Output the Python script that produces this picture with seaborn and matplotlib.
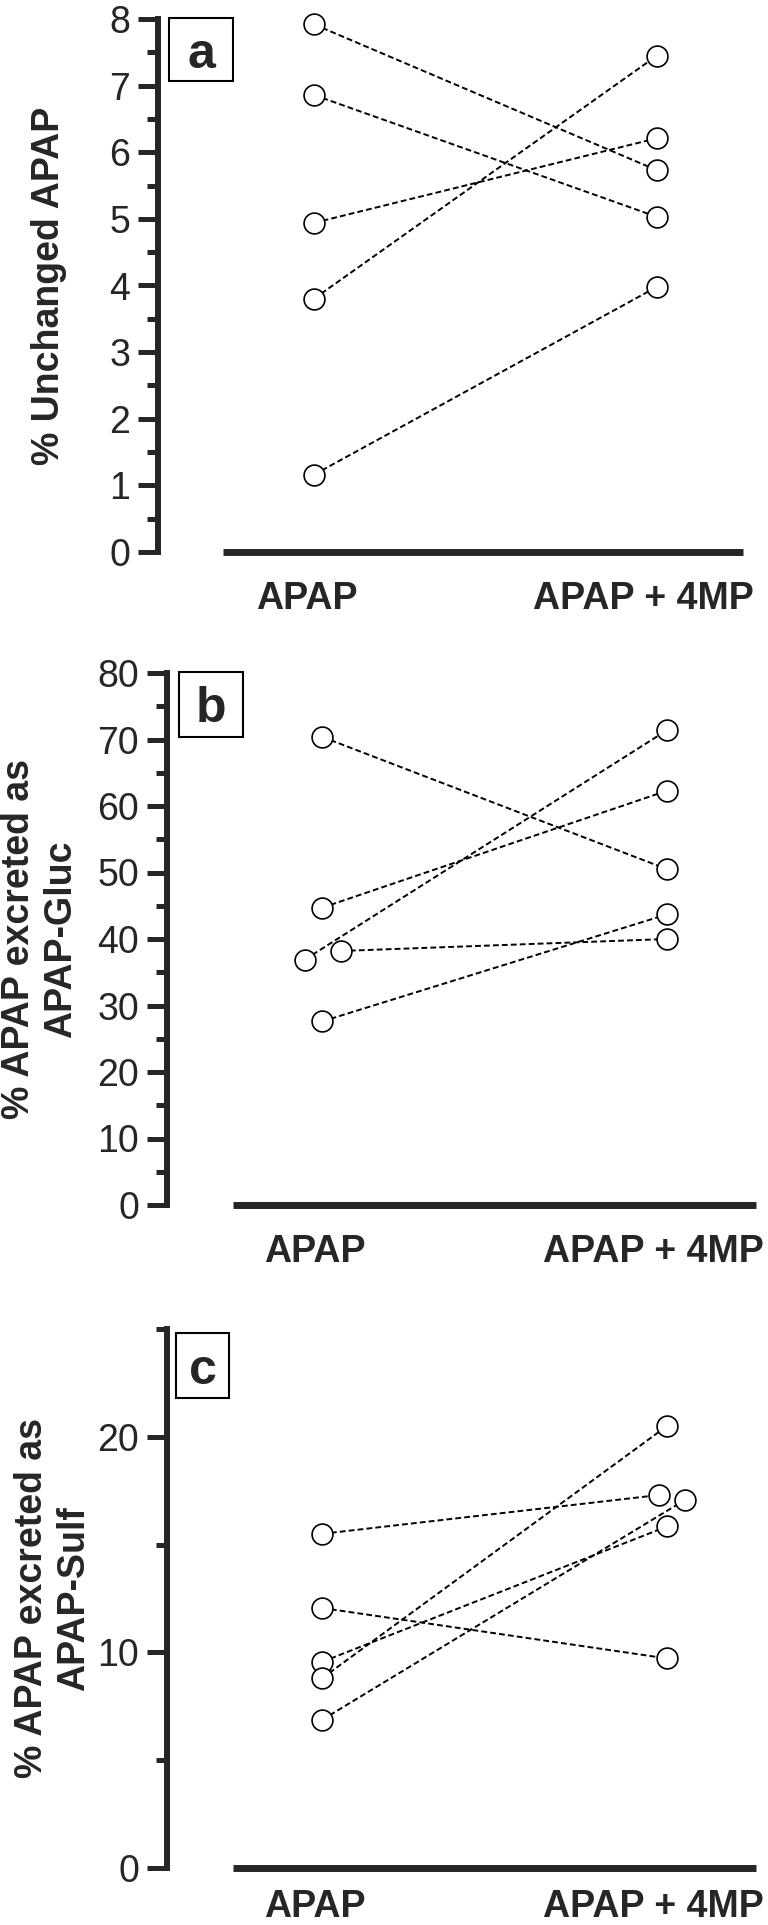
import matplotlib
matplotlib.use("Agg")
import matplotlib.pyplot as plt
import matplotlib.transforms as mtransforms
from matplotlib.patches import Rectangle
from matplotlib.ticker import MultipleLocator
import seaborn as sns
import pandas as pd

# ---------------- data ----------------
conditions = ["APAP", "APAP + 4MP"]
subjects = ["S1", "S2", "S3", "S4", "S5"]

# panel a: % unchanged APAP
unchanged_apap = [7.92, 6.86, 4.94, 3.80, 1.16]
unchanged_4mp = [5.73, 5.03, 6.21, 7.45, 3.98]
unchanged_off_apap = [0, 0, 0, 0, 0]
unchanged_off_4mp = [0, 0, 0, 0, 0]

# panel b: % APAP excreted as APAP-Gluc
gluc_apap = [70.4, 44.7, 36.9, 38.2, 27.6]
gluc_4mp = [50.5, 62.3, 71.4, 40.0, 43.7]
gluc_off_apap = [0, 0, -0.05, 0.055, 0]
gluc_off_4mp = [0, 0, 0, 0, 0]

# panel c: % APAP excreted as APAP-Sulf
sulf_apap = [15.5, 12.06, 9.56, 8.8, 6.87]
sulf_4mp = [17.3, 9.72, 15.84, 20.5, 17.07]
sulf_off_apap = [0, 0, 0, 0, 0]
sulf_off_4mp = [-0.023, 0, 0, 0, 0.052]

panel_letters = ["a", "b", "c"]
ylabels = ["% Unchanged APAP",
           "% APAP excreted as\nAPAP-Gluc",
           "% APAP excreted as\nAPAP-Sulf"]


def make_df(v0, v1, o0, o1):
    rows = []
    for s, a, b, oa, ob in zip(subjects, v0, v1, o0, o1):
        rows.append(dict(subject=s, condition=conditions[0], x=0 + oa, value=a))
        rows.append(dict(subject=s, condition=conditions[1], x=1 + ob, value=b))
    return pd.DataFrame(rows)


dfs = [make_df(unchanged_apap, unchanged_4mp, unchanged_off_apap, unchanged_off_4mp),
       make_df(gluc_apap, gluc_4mp, gluc_off_apap, gluc_off_4mp),
       make_df(sulf_apap, sulf_4mp, sulf_off_apap, sulf_off_4mp)]

# ---------------- style ----------------
sns.set_style("white")
plt.rcParams["font.family"] = ["Liberation Sans", "DejaVu Sans"]

W, H = 768, 1925
fig = plt.figure(figsize=(W / 100, H / 100), dpi=100)


def px_rect(left, right, top, bottom):
    return [left / W, 1 - bottom / H, (right - left) / W, (bottom - top) / H]


axes_px = [(223, 743, 19, 552), (233, 756, 673, 1205), (233, 756, 1329, 1868)]
xlims = [(-0.265, 1.251), (-0.258, 1.258), (-0.258, 1.258)]
ylims = [(0, 8), (0, 80), (0, 25)]
major = [1, 10, 10]
minor = [0.5, 5, 5]
spine_out = [46.8, 47.5, 47.5]
label_x = [-0.3346, -0.369, -0.344]
xpads = [21, 21, 15]
boxes = [(169, 233, 18, 81), (179, 243, 672, 737), (176, 229, 1333, 1398)]

for i in range(3):
    ax = fig.add_axes(px_rect(*axes_px[i]))
    df = dfs[i]
    sns.lineplot(data=df, x="x", y="value", units="subject", estimator=None,
                 color="black", linewidth=1.4, linestyle=(0, (3, 1.6)),
                 ax=ax, legend=False, zorder=2)
    sns.scatterplot(data=df, x="x", y="value", ax=ax, s=225, color="white",
                    edgecolor="black", linewidth=1.2, zorder=3, clip_on=False,
                    legend=False)
    ax.set_xlim(*xlims[i])
    ax.set_ylim(*ylims[i])
    ax.yaxis.set_major_locator(MultipleLocator(major[i]))
    ax.yaxis.set_minor_locator(MultipleLocator(minor[i]))
    ax.set_xticks([0, 1])
    ax.set_xticklabels(conditions, fontsize=27, fontweight="bold")
    ax.tick_params(axis="x", length=0, pad=xpads[i])
    ax.tick_params(axis="y", which="major", direction="out", length=14.4,
                   width=3.6, labelsize=27, pad=5.8, left=True)
    ax.tick_params(axis="y", which="minor", direction="out", length=8,
                   width=3.6, left=True)
    for sp in ["top", "right"]:
        ax.spines[sp].set_visible(False)
    ax.spines["left"].set_position(("outward", spine_out[i]))
    ax.spines["left"].set_linewidth(4.3)
    ax.spines["left"].set_capstyle("projecting")
    ax.spines["bottom"].set_linewidth(5)
    ax.spines["bottom"].set_capstyle("butt")
    ax.set_xlabel("")
    ax.set_ylabel(ylabels[i], fontsize=27, fontweight="bold", va="center",
                  ha="center", linespacing=1.2, multialignment="center")
    ax.yaxis.set_label_coords(label_x[i], 0.5)
    for lbl, dx in zip(ax.get_xticklabels(), [-7, -14]):
        lbl.set_transform(lbl.get_transform() +
                          mtransforms.ScaledTranslation(dx / 100, 0, fig.dpi_scale_trans))
    ax.patch.set_alpha(0)

    # panel letter box
    x0, x1, y0, y1 = boxes[i]
    rect = Rectangle((x0 / W, 1 - y1 / H), (x1 - x0) / W, (y1 - y0) / H,
                     transform=fig.transFigure, fill=False, lw=1.5,
                     edgecolor="black")
    fig.add_artist(rect)
    fig.text((x0 + x1) / 2 / W, 1 - (y0 + y1) / 2 / H, panel_letters[i],
             fontsize=36, fontweight="bold", ha="center", va="center_baseline")

fig.savefig("out.png", dpi=100, facecolor="white")
